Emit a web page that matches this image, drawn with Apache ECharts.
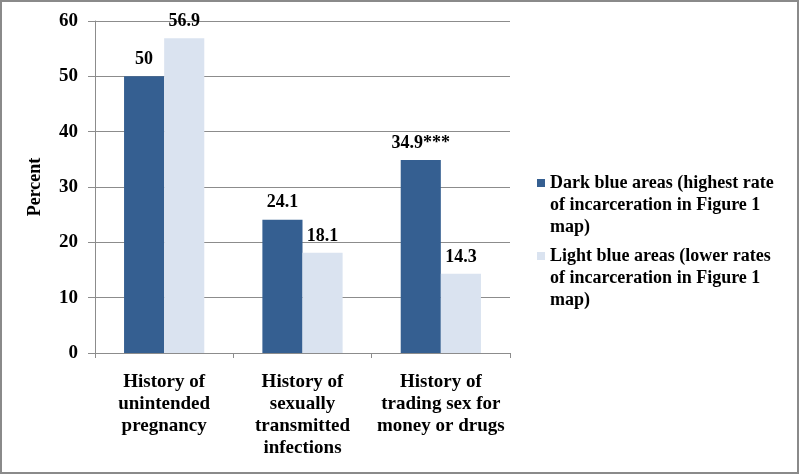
<!DOCTYPE html>
<html>
<head>
<meta charset="utf-8">
<script src="https://cdn.jsdelivr.net/npm/echarts@6/dist/echarts.min.js"></script>
<style>
  body { margin: 0; background: #fff; }
  #main { width: 800px; height: 475px; }
</style>
</head>
<body>
<div id="main"></div>
<script>
// data
var categories = [
  'History of\nunintended\npregnancy',
  'History of\nsexually\ntransmitted\ninfections',
  'History of\ntrading sex for\nmoney or drugs'
];
var seriesNames = [
  'Dark blue areas (highest rate\nof incarceration in Figure 1\nmap)',
  'Light blue areas (lower rates\nof incarceration in Figure 1\nmap)'
];
var darkValues = [50, 24.1, 34.9];
var lightValues = [56.9, 18.1, 14.3];
var darkLabels = ['50', '24.1', '34.9***'];
var lightLabels = ['56.9', '18.1', '14.3'];

var font = "'Liberation Serif', 'Times New Roman', serif";
var gridColor = '#8c8c8c';

var myChart = echarts.init(document.getElementById('main'));

var option = {
  backgroundColor: '#fff',
  animation: false,
  textStyle: { fontFamily: font },
  graphic: [{
    type: 'rect',
    shape: { x: 1, y: 1, width: 797, height: 472 },
    style: { fill: 'none', stroke: '#8a8a8a', lineWidth: 2 },
    silent: true
  }],
  grid: { left: 95, right: 290, top: 21, bottom: 122 },
  legend: {
    orient: 'vertical',
    left: 537,
    top: 128,
    padding: 0,
    itemWidth: 8,
    itemHeight: 8,
    itemGap: -37,
    icon: 'rect',
    data: seriesNames,
    // two blank lines in front so the icon sits beside the first text line
    formatter: function (name) { return '\n\n' + name; },
    textStyle: {
      fontFamily: font,
      fontWeight: 'bold',
      fontSize: 18,
      color: '#000',
      lineHeight: 22
    }
  },
  xAxis: {
    type: 'category',
    data: categories,
    axisLine: { lineStyle: { color: gridColor } },
    axisTick: { show: true, length: 5, lineStyle: { color: gridColor } },
    axisLabel: {
      color: '#000',
      fontFamily: font,
      fontWeight: 'bold',
      fontSize: 19,
      lineHeight: 22,
      margin: 18,
      interval: 0
    }
  },
  yAxis: {
    type: 'value',
    min: 0,
    max: 60,
    interval: 10,
    name: 'Percent',
    nameLocation: 'middle',
    nameGap: 51,
    nameTextStyle: { color: '#000', fontFamily: font, fontWeight: 'bold', fontSize: 18 },
    axisLine: { show: true, lineStyle: { color: gridColor } },
    axisTick: { show: true, length: 7, lineStyle: { color: gridColor } },
    splitLine: { lineStyle: { color: gridColor } },
    axisLabel: {
      color: '#000',
      fontFamily: font,
      fontWeight: 'bold',
      fontSize: 19,
      margin: 17
    }
  },
  series: [
    {
      name: seriesNames[0],
      type: 'bar',
      data: darkValues,
      barGap: '0%',
      barCategoryGap: '42%',
      itemStyle: { color: '#355f91' },
      label: {
        show: true,
        position: 'top',
        distance: 8,
        color: '#000',
        fontFamily: font,
        fontWeight: 'bold',
        fontSize: 18,
        formatter: function (p) { return darkLabels[p.dataIndex]; }
      }
    },
    {
      name: seriesNames[1],
      type: 'bar',
      data: lightValues,
      itemStyle: { color: '#dae3f0' },
      label: {
        show: true,
        position: 'top',
        distance: 8,
        color: '#000',
        fontFamily: font,
        fontWeight: 'bold',
        fontSize: 18,
        formatter: function (p) { return lightLabels[p.dataIndex]; }
      }
    }
  ]
};

myChart.setOption(option);
</script>
</body>
</html>
